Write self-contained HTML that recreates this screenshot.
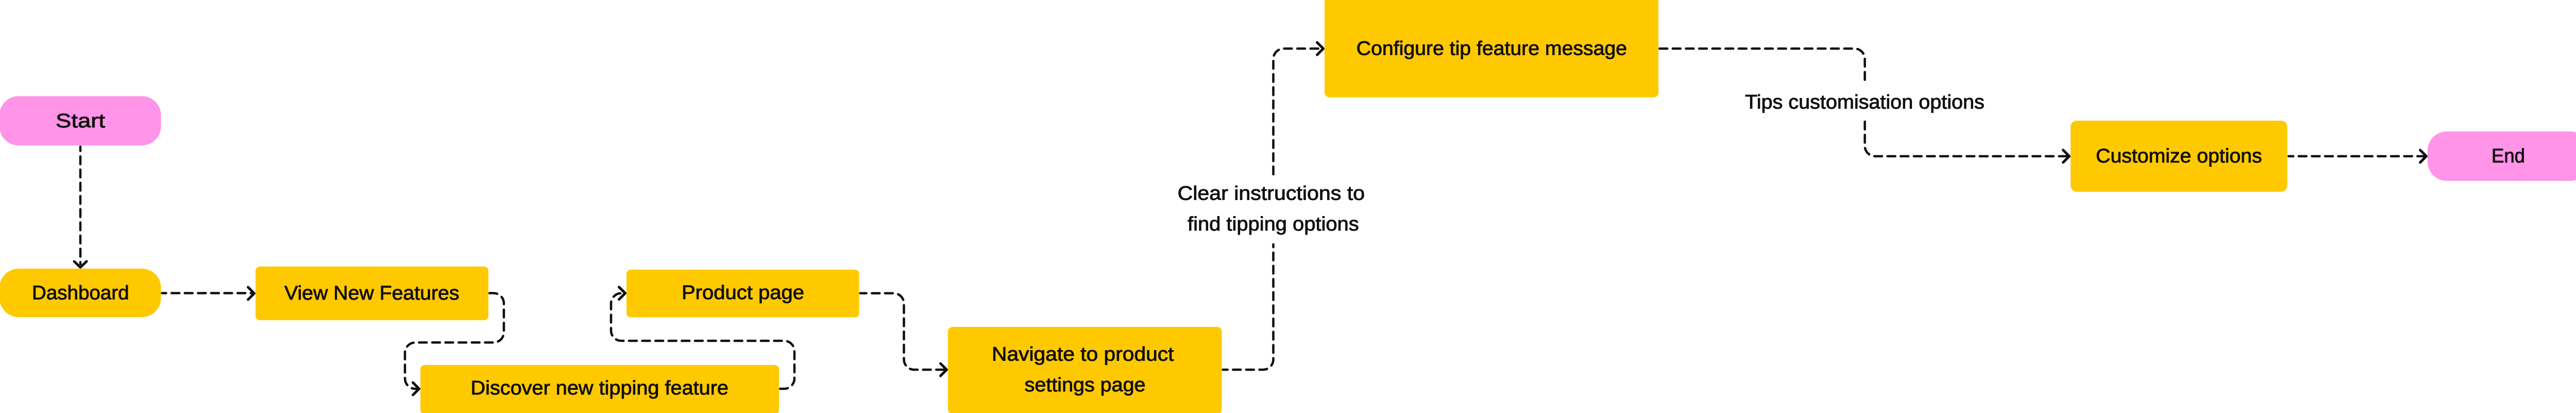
<!DOCTYPE html>
<html>
<head>
<meta charset="utf-8">
<title>Tipping feature user flow</title>
<style>
html,body{margin:0;padding:0;background:#fff;width:5024px;height:801px;overflow:hidden}
svg{display:block}
text{font-family:"Liberation Sans",sans-serif;font-size:38px;fill:#100f0f;stroke:#100f0f;stroke-width:.9px}
.c{fill:none;stroke:#0f0f0f;stroke-width:4.5;stroke-linecap:round;stroke-linejoin:round;stroke-dasharray:15 10.6}
.a{fill:none;stroke:#0f0f0f;stroke-width:5;stroke-linecap:round;stroke-linejoin:round}
</style>
</head>
<body>
<svg width="5024" height="801" viewBox="0 0 5024 801" xmlns="http://www.w3.org/2000/svg">
<rect width="5024" height="801" fill="#fff"/>

<!-- nodes -->
<rect x="-1" y="186.5" width="313.5" height="95.5" rx="37" fill="#ff94e8"/>
<rect x="-1" y="521" width="313.5" height="94" rx="37" fill="#ffc900"/>
<rect x="496" y="517" width="452" height="104" rx="8" fill="#ffc900"/>
<rect x="816" y="708" width="696" height="95" rx="8" fill="#ffc900"/>
<rect x="1216" y="523" width="451.5" height="92.5" rx="8" fill="#ffc900"/>
<rect x="1840" y="634" width="531.5" height="169" rx="9" fill="#ffc900"/>
<rect x="2571" y="-12" width="648" height="200.7" rx="9" fill="#ffc900"/>
<rect x="4019" y="234" width="420.5" height="138" rx="12" fill="#ffc900"/>
<rect x="4712" y="255" width="314" height="95.7" rx="37" fill="#ff94e8"/>

<!-- connectors -->
<path class="c" style="stroke-dashoffset:6.7" d="M156 284.5V512"/>
<path class="c" style="stroke-dashoffset:7" d="M314.5 568.5H490"/>
<path class="c" d="M950.2 568.5H958A20 20 0 0 1 978 588.5V644.3A20 20 0 0 1 958 664.3H806A20 20 0 0 0 786 684.3V734A20 20 0 0 0 806 754H810"/>
<path class="c" d="M1514.2 754H1522A20 20 0 0 0 1542 734V681A20 20 0 0 0 1522 661H1206A20 20 0 0 1 1186 641V588.7A20 20 0 0 1 1206 568.7H1210"/>
<path class="c" style="stroke-dashoffset:3" d="M1669.7 568.7H1734.5A20 20 0 0 1 1754.5 588.7V697A20 20 0 0 0 1774.5 717H1834"/>
<path class="c" style="stroke-dashoffset:6" d="M2373.7 717H2451.5A20 20 0 0 0 2471.5 697V474"/>
<path class="c" d="M2471.5 338V114.3A20 20 0 0 1 2491.5 94.3H2565"/>
<path class="c" d="M3221.2 94.3H3599.6A20 20 0 0 1 3619.6 114.3V162"/>
<path class="c" d="M3619.6 236V283A20 20 0 0 0 3639.6 303H4013"/>
<path class="c" style="stroke-dashoffset:6" d="M4442.2 303H4706"/>

<!-- arrowheads -->
<path class="a" d="M144 507L156 518.5L168 507"/>
<path class="a" d="M481.5 557L493.5 569L481.5 581"/>
<path class="a" d="M801.5 742L813.5 754L801.5 766"/>
<path class="a" d="M1201.5 556.7L1213.5 568.7L1201.5 580.7"/>
<path class="a" d="M1825.5 705L1837.5 717L1825.5 729"/>
<path class="a" d="M2556.5 82.3L2568.5 94.3L2556.5 106.3"/>
<path class="a" d="M4004.5 291L4016.5 303L4004.5 315"/>
<path class="a" d="M4697.5 291L4709.5 303L4697.5 315"/>

<!-- labels -->
<text x="108" y="247" textLength="96" lengthAdjust="spacingAndGlyphs">Start</text>
<text x="62" y="580.5" textLength="188.5" lengthAdjust="spacingAndGlyphs">Dashboard</text>
<text x="552" y="581" textLength="339.5" lengthAdjust="spacingAndGlyphs">View New Features</text>
<text x="913.5" y="765" textLength="500.5" lengthAdjust="spacingAndGlyphs">Discover new tipping feature</text>
<text x="1323" y="580" textLength="238" lengthAdjust="spacingAndGlyphs">Product page</text>
<text x="1925" y="699.3" textLength="353.5" lengthAdjust="spacingAndGlyphs">Navigate to product</text>
<text x="1988.7" y="759" textLength="234.8" lengthAdjust="spacingAndGlyphs">settings page</text>
<text x="2632.8" y="106.7" textLength="525.2" lengthAdjust="spacingAndGlyphs">Configure tip feature message</text>
<text x="2285.6" y="387.3" textLength="363.4" lengthAdjust="spacingAndGlyphs">Clear instructions to</text>
<text x="2305" y="447" textLength="332.7" lengthAdjust="spacingAndGlyphs">find tipping options</text>
<text x="3387" y="210.7" textLength="464.8" lengthAdjust="spacingAndGlyphs">Tips customisation options</text>
<text x="4068" y="315" textLength="322.6" lengthAdjust="spacingAndGlyphs">Customize options</text>
<text x="4836" y="315" textLength="65" lengthAdjust="spacingAndGlyphs">End</text>
</svg>
</body>
</html>
